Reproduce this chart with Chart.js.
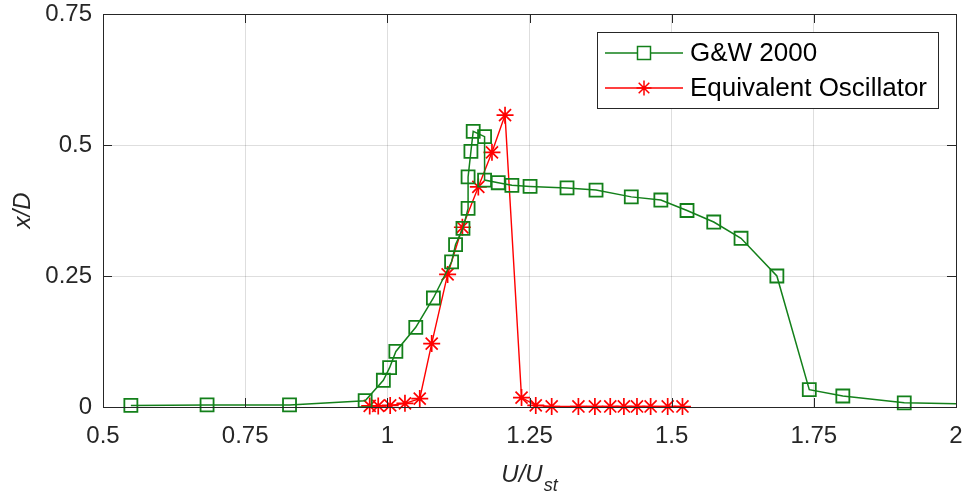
<!DOCTYPE html>
<html>
<head>
<meta charset="utf-8">
<script src="https://cdn.jsdelivr.net/npm/chart.js@4/dist/chart.umd.min.js"></script>
<style>
  html, body { margin: 0; padding: 0; background: #fff; }
</style>
</head>
<body>
<canvas id="myChart" width="967" height="496"></canvas>
<script>
// data
const gwX = [0.549, 0.683, 0.828, 0.961, 0.993, 1.004, 1.015, 1.050, 1.081, 1.113, 1.120, 1.133, 1.142, 1.142, 1.147, 1.151, 1.171, 1.171, 1.195, 1.219, 1.251, 1.316, 1.367, 1.429, 1.481, 1.527, 1.574, 1.622, 1.685, 1.742, 1.801, 1.909, 2.1];
const gwY = [0.003, 0.004, 0.004, 0.012, 0.051, 0.075, 0.106, 0.152, 0.208, 0.277, 0.310, 0.341, 0.379, 0.439, 0.488, 0.526, 0.516, 0.433, 0.428, 0.423, 0.421, 0.418, 0.414, 0.401, 0.395, 0.375, 0.353, 0.322, 0.250, 0.033, 0.021, 0.008, 0.004];
const eoX = [0.969, 0.984, 1.005, 1.031, 1.057, 1.078, 1.106, 1.132, 1.160, 1.184, 1.207, 1.236, 1.261, 1.289, 1.336, 1.365, 1.392, 1.416, 1.439, 1.463, 1.493, 1.519];
const eoY = [0.002, 0.002, 0.003, 0.007, 0.016, 0.121, 0.253, 0.343, 0.420, 0.486, 0.557, 0.018, 0.003, 0.001, 0.001, 0.001, 0.001, 0.001, 0.001, 0.001, 0.001, 0.001];
const xTicks = [0.5, 0.75, 1, 1.25, 1.5, 1.75, 2];
const yTicks = [0, 0.25, 0.5, 0.75];
const seriesNames = ['G&W 2000', 'Equivalent Oscillator'];

const GREEN = '#13801a';
const RED = '#ff0000';
const AXIS = '#262626';
const FONT = '"Liberation Sans", Arial, Helvetica, sans-serif';

function toPoints(xs, ys) {
  return xs.map((x, i) => ({ x: x, y: ys[i] }));
}

function drawSquare(ctx, x, y, side) {
  ctx.strokeRect(x - side / 2, y - side / 2, side, side);
}

function drawStar(ctx, x, y, r) {
  ctx.beginPath();
  for (let k = 0; k < 4; k++) {
    const a = k * Math.PI / 4;
    ctx.moveTo(x - Math.cos(a) * r, y - Math.sin(a) * r);
    ctx.lineTo(x + Math.cos(a) * r, y + Math.sin(a) * r);
  }
  ctx.stroke();
}

// box, inward ticks, axis titles and legend, MATLAB style
const matlabFrame = {
  id: 'matlabFrame',
  afterDraw(chart) {
    const ctx = chart.ctx;
    const a = chart.chartArea;
    const xs = chart.scales.x, ys = chart.scales.y;
    ctx.save();
    ctx.strokeStyle = AXIS;
    ctx.lineWidth = 1;
    ctx.strokeRect(Math.round(a.left) + 0.5, Math.round(a.top) + 0.5, Math.round(a.right - a.left), Math.round(a.bottom - a.top));
    const tl = 9;
    ctx.beginPath();
    xTicks.forEach(v => {
      const px = Math.round(xs.getPixelForValue(v)) + 0.5;
      ctx.moveTo(px, a.bottom); ctx.lineTo(px, a.bottom - tl);
      ctx.moveTo(px, a.top); ctx.lineTo(px, a.top + tl);
    });
    yTicks.forEach(v => {
      const py = Math.round(ys.getPixelForValue(v)) + 0.5;
      ctx.moveTo(a.left, py); ctx.lineTo(a.left + tl, py);
      ctx.moveTo(a.right, py); ctx.lineTo(a.right - tl, py);
    });
    ctx.stroke();

    // axis titles
    ctx.fillStyle = AXIS;
    ctx.textBaseline = 'alphabetic';
    const mainTxt = 'U/U';
    ctx.font = 'italic 24px ' + FONT;
    const w1 = ctx.measureText(mainTxt).width;
    ctx.font = 'italic 18px ' + FONT;
    const w2 = ctx.measureText('st').width;
    const cx = (a.left + a.right) / 2;
    const x0 = cx - (w1 + w2 + 1) / 2;
    ctx.font = 'italic 24px ' + FONT;
    ctx.textAlign = 'left';
    ctx.fillText(mainTxt, x0, 482);
    ctx.font = 'italic 18px ' + FONT;
    ctx.fillText('st', x0 + w1 + 1, 491);

    ctx.save();
    ctx.translate(30, (a.top + a.bottom) / 2);
    ctx.rotate(-Math.PI / 2);
    ctx.font = 'italic 24px ' + FONT;
    ctx.textAlign = 'center';
    ctx.fillText('x/D', 0, 0);
    ctx.restore();

    // legend
    const lx = 597, ly = 32, lw = 341, lh = 76;
    ctx.fillStyle = '#fff';
    ctx.fillRect(lx, ly, lw, lh);
    ctx.strokeStyle = AXIS;
    ctx.lineWidth = 1;
    ctx.strokeRect(lx + 0.5, ly + 0.5, lw, lh);
    const rows = [
      { name: seriesNames[0], color: GREEN, y: 53, marker: 'rect' },
      { name: seriesNames[1], color: RED, y: 88, marker: 'star' }
    ];
    rows.forEach(r => {
      ctx.strokeStyle = r.color;
      ctx.lineWidth = 1.5;
      ctx.beginPath();
      ctx.moveTo(605, r.y); ctx.lineTo(683, r.y);
      ctx.stroke();
      if (r.marker === 'rect') {
        ctx.fillStyle = '#fff';
        ctx.fillRect(637, r.y - 6.5, 13, 13);
        drawSquare(ctx, 644, r.y, 13);
      } else {
        drawStar(ctx, 644, r.y, 7.5);
      }
      ctx.fillStyle = '#000';
      ctx.font = '26px ' + FONT;
      ctx.textAlign = 'left';
      ctx.textBaseline = 'middle';
      ctx.fillText(r.name, 690, r.y + 1);
    });
    ctx.restore();
  }
};

const data = {
  datasets: [{
    label: seriesNames[0],
    data: toPoints(gwX, gwY),
    borderColor: GREEN,
    borderWidth: 1.5,
    pointStyle: 'rect',
    pointRadius: 9.2,
    pointBorderWidth: 1.8,
    pointBorderColor: GREEN,
    pointBackgroundColor: 'rgba(0,0,0,0)',
    tension: 0,
    clip: { left: 20, top: 20, right: 0, bottom: 20 }
  },
  {
    label: seriesNames[1],
    data: toPoints(eoX, eoY),
    borderColor: RED,
    borderWidth: 1.4,
    pointStyle: 'star',
    pointRadius: 8.5,
    pointBorderWidth: 1.7,
    pointBorderColor: RED,
    pointBackgroundColor: 'rgba(0,0,0,0)',
    tension: 0,
    clip: false
  }]
};

const config = {
  type: 'scatter',
  data: data,
  options: {
    responsive: false,
    animation: false,
    devicePixelRatio: 1,
    showLine: true,
    layout: { padding: { top: 14, right: 9, left: 0, bottom: 0 } },
    plugins: {
      legend: { display: false },
      tooltip: { enabled: false }
    },
    scales: {
      x: {
        type: 'linear',
        position: 'bottom',
        min: 0.5,
        max: 2,
        afterBuildTicks: (scale) => { scale.ticks = xTicks.map(v => ({ value: v })); },
        afterFit: (scale) => { scale.height = 89; scale.paddingLeft = 0; scale.paddingRight = 0; },
        grid: { color: 'rgba(0,0,0,0.13)', drawTicks: false },
        border: { display: false },
        ticks: {
          padding: 15,
          color: AXIS,
          font: { family: FONT, size: 24 },
          maxRotation: 0,
          callback: (v) => String(v)
        }
      },
      y: {
        type: 'linear',
        min: 0,
        max: 0.75,
        afterBuildTicks: (scale) => { scale.ticks = yTicks.map(v => ({ value: v })); },
        afterFit: (scale) => { scale.width = 103; scale.paddingTop = 0; scale.paddingBottom = 0; },
        grid: { color: 'rgba(0,0,0,0.13)', drawTicks: false },
        border: { display: false },
        ticks: {
          padding: 11,
          color: AXIS,
          font: { family: FONT, size: 24 },
          callback: (v) => String(v)
        }
      }
    }
  },
  plugins: [matlabFrame]
};

const myChart = new Chart(document.getElementById('myChart'), config);
</script>
</body>
</html>
